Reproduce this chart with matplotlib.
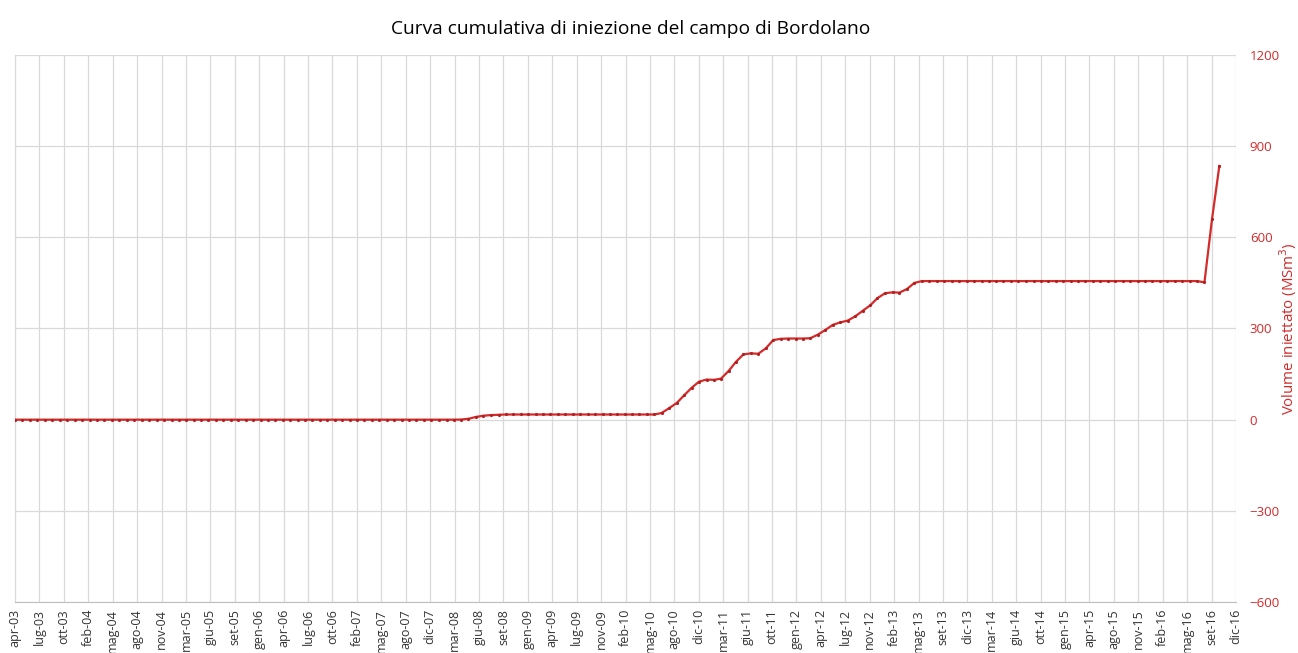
import numpy as np
import pandas as pd
import matplotlib
matplotlib.use('Agg')
import matplotlib.pyplot as plt

plt.rcParams['font.family'] = ['Open Sans', 'DejaVu Sans']

# x-axis labels (Excel date axis, one tick every 100 days)
tick_labels = [
    "apr-03", "lug-03", "ott-03", "feb-04", "mag-04", "ago-04", "nov-04", "mar-05",
    "giu-05", "set-05", "gen-06", "apr-06", "lug-06", "ott-06", "feb-07", "mag-07",
    "ago-07", "dic-07", "mar-08", "giu-08", "set-08", "gen-09", "apr-09", "lug-09",
    "nov-09", "feb-10", "mag-10", "ago-10", "dic-10", "mar-11", "giu-11", "ott-11",
    "gen-12", "apr-12", "lug-12", "nov-12", "feb-13", "mag-13", "set-13", "dic-13",
    "mar-14", "giu-14", "ott-14", "gen-15", "apr-15", "ago-15", "nov-15", "feb-16",
    "mag-16", "set-16", "dic-16",
]
tick_start = "2003-04-01"
tick_step_days = 100

# monthly cumulative injected volume (MSm3), apr-2003 .. ott-2016
months = pd.date_range("2003-04-01", "2016-10-01", freq="MS")
volume = [
    # 2003 (apr-dic)
    0, 0, 0, 0, 0, 0, 0, 0, 0,
    # 2004
    0, 0, 0, 0, 0, 0, 0, 0, 0, 0, 0, 0,
    # 2005
    0, 0, 0, 0, 0, 0, 0, 0, 0, 0, 0, 0,
    # 2006
    0, 0, 0, 0, 0, 0, 0, 0, 0, 0, 0, 0,
    # 2007
    0, 0, 0, 0, 0, 0, 0, 0, 0, 0, 0, 0,
    # 2008
    0, 0, 0, 0.5, 3, 9, 13, 15, 16, 17, 17, 17,
    # 2009
    17, 17, 17, 17, 17, 17, 17, 17, 17, 17, 17, 17,
    # 2010
    17, 17, 17, 17, 17, 17, 22, 38, 55, 80, 105, 125,
    # 2011
    132, 131, 135, 160, 190, 215, 218, 217, 235, 262, 266, 267,
    # 2012
    267, 267, 268, 280, 295, 312, 320, 326, 340, 358, 376, 400,
    # 2013
    416, 419, 418, 430, 450, 456, 456, 456, 456, 456, 456, 456,
    # 2014
    456, 456, 456, 456, 456, 456, 456, 456, 456, 456, 456, 456,
    # 2015
    456, 456, 456, 456, 456, 456, 456, 456, 456, 456, 456, 456,
    # 2016 (gen-ott)
    456, 456, 456, 456, 456, 456, 456, 452, 660, 835,
]
y_ticks = [-600, -300, 0, 300, 600, 900, 1200]

red = "#D42A2A"
grid_col = "#D9D9D9"

fig = plt.figure(figsize=(12.98, 6.53), dpi=100)
ax = fig.add_axes([0.0116, 0.0781, 0.9406, 0.8377])

ticks = pd.Timestamp(tick_start) + pd.to_timedelta(
    np.arange(len(tick_labels)) * tick_step_days, unit="D")

ax.plot(months, volume, color=red, lw=1.6, marker='.', ms=2.5,
        mec="#B02020", mfc="#B02020", zorder=3)

ax.set_xlim(ticks[0], ticks[-1])
ax.set_xticks(ticks)
ax.set_xticklabels(tick_labels, rotation=90, fontsize=9, color="#333333")
ax.set_ylim(-600, 1200)
ax.set_yticks(y_ticks)
ax.yaxis.tick_right()
ax.yaxis.set_label_position("right")
ax.tick_params(axis='y', labelcolor=red, labelsize=9.5, length=0, pad=10)
ax.tick_params(axis='x', length=0, pad=5)
ax.set_ylabel("Volume iniettato (MSm$^3$)", color=red, fontsize=10.8)
ax.yaxis.set_label_coords(1.034, 0.5)

ax.grid(True, color=grid_col, lw=0.9)
for side in ['top', 'right']:
    ax.spines[side].set_visible(False)
ax.spines['left'].set_color(grid_col)
ax.spines['bottom'].set_color("#BFBFBF")

fig.suptitle("Curva cumulativa di iniezione del campo di Bordolano",
             fontsize=13.8, y=0.97, x=0.486)

fig.savefig("out.png", dpi=100)
